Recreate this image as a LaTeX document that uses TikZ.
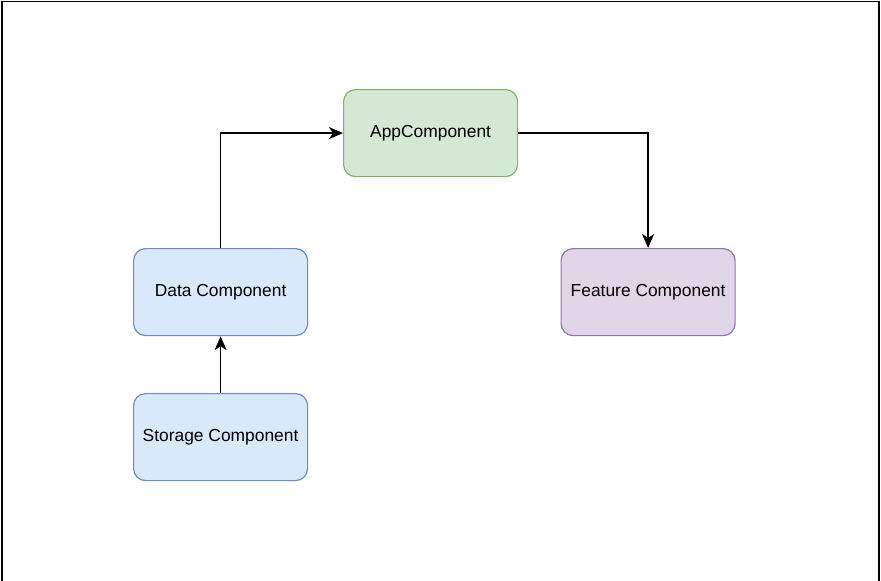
\documentclass[tikz,border=0pt]{standalone}
\usepackage{fontspec}
\setmainfont{Liberation Sans}
\usetikzlibrary{arrows.meta}
\tikzset{
  comp/.style={draw, line width=1.2pt, rounded corners=12pt, minimum width=174pt, minimum height=87pt, inner sep=0pt, font=\fontsize{17.4}{20}\selectfont, anchor=north west},
  bluebox/.style={comp, fill=dgblue, draw=dgbluestroke},
  greenbox/.style={comp, fill=dggreen, draw=dggreenstroke},
  purplebox/.style={comp, fill=dgpurple, draw=dgpurplestroke},
  conn/.style={draw, line width=1.5pt, -{Stealth[length=14pt,width=12pt,inset=4pt]}},
}
\definecolor{dgblue}{HTML}{DAE8FC}
\definecolor{dgbluestroke}{HTML}{6C8EBF}
\definecolor{dggreen}{HTML}{D5E8D4}
\definecolor{dggreenstroke}{HTML}{82B366}
\definecolor{dgpurple}{HTML}{E1D5E7}
\definecolor{dgpurplestroke}{HTML}{9673A6}
\begin{document}
\begin{tikzpicture}[x=1pt,y=-1pt]
\useasboundingbox (0,0) rectangle (881,581);
\fill[white] (0,0) rectangle (881,581);
\draw[line width=1.5pt] (2,581) -- (2,1.5) -- (879,1.5) -- (879,581);
\node[greenbox] (app) at (343,89) {AppComponent};
\node[bluebox] (data) at (133,248) {Data Component};
\node[purplebox] (feat) at (560.5,248) {Feature Component};
\node[bluebox] (stor) at (133,393) {Storage Component};
\coordinate (c1) at (data.north |- app.west);
\coordinate (c2) at (feat.north |- app.east);
\draw[conn] (data.north) -- (c1) -- (app.west);
\draw[conn] (app.east) -- (c2) -- (feat.north);
\draw[conn] (stor.north) -- (data.south);
\end{tikzpicture}
\end{document}
